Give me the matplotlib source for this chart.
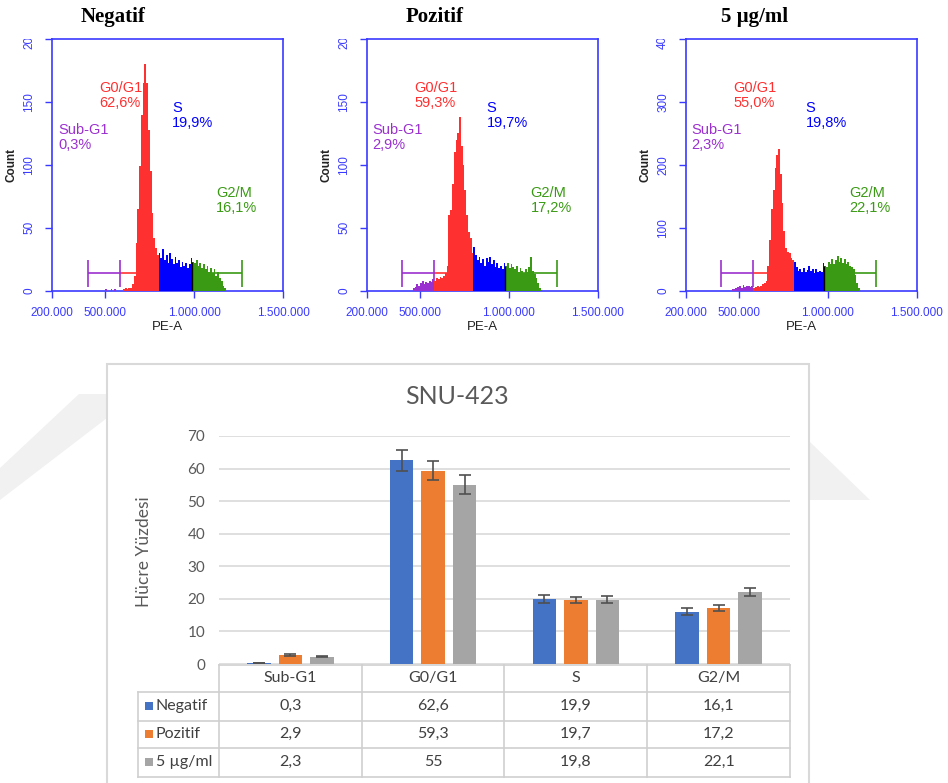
import numpy as np
import matplotlib.pyplot as plt
from matplotlib.patches import Rectangle, Polygon
from matplotlib.transforms import Bbox, TransformedBbox

W, H = 948, 783

# ---- flow cytometry histograms: counts per 10.000 wide PE-A bin ----
bin_width = 10000
sub_end = 580000

neg_start = 500000
neg_counts = [1, 0, 0, 1, 0, 1, 0, 0, 0, 0,
              1, 2, 1, 2, 2, 5, 12, 38, 65, 99,
              140, 165, 180, 165, 128, 95, 62, 42, 34, 28,
              30, 26, 33, 24, 28, 22, 30, 25, 21, 27,
              22, 24, 19, 23, 20, 22, 18, 21, 26,
              23, 22, 24, 20, 22, 18, 21, 17, 20, 15,
              18, 14, 17, 12, 15, 10, 8, 4, 2]

poz_start = 460000
poz_counts = [2, 3, 5, 4, 6, 8, 5, 7, 6, 8, 7, 9,
              8, 10, 9, 11, 10, 12, 14, 20,
              60, 64, 85, 110, 120, 125, 138, 115, 100, 80, 60, 47, 42, 30,
              35, 28, 24, 27, 22, 25, 20, 26, 23, 27, 21, 24, 19, 22, 18, 20, 17, 22,
              20, 22, 18, 21, 19, 17, 20, 15, 18, 16, 14, 17, 15, 19, 27, 16, 13, 10, 6, 2]

dose_start = 460000
dose_counts = [2, 3, 4, 6, 8, 5, 9, 6, 7, 8, 6, 7,
               5, 6, 7, 6, 8, 10, 12, 15, 40, 80, 130, 160, 195, 215, 225,
               185, 140, 95, 68, 62, 60, 52, 48,
               45, 38, 32, 35, 30, 36, 29, 33, 40, 31, 35, 28, 34, 30, 32, 29, 44,
               40, 38, 45, 42, 50, 43, 48, 55, 46, 52, 44, 50, 42, 45, 40, 38, 35, 25, 12, 4]

hist_titles = ["Negatif", "Pozitif", "5 µg/ml"]
hist_starts = [neg_start, poz_start, dose_start]
hist_counts = [neg_counts, poz_counts, dose_counts]
s_starts = [800000, 800000, 810000]
g2_starts = [990000, 980000, 980000]
y_max = [200, 200, 400]
y_ticks = [[0, 50, 100, 150, 200], [0, 50, 100, 150, 200], [0, 100, 200, 300, 400]]
gate_heights = [14, 14, 28]
phase_pct = [["0,3%", "62,6%", "19,9%", "16,1%"],
             ["2,9%", "59,3%", "19,7%", "17,2%"],
             ["2,3%", "55,0%", "19,8%", "22,1%"]]
phase_names = ["Sub-G1", "G0/G1", "S", "G2/M"]

# ---- bar chart ----
categories = ["Sub-G1", "G0/G1", "S", "G2/M"]
series_names = ["Negatif", "Pozitif", "5 µg/ml"]
neg_vals = [0.3, 62.6, 19.9, 16.1]
poz_vals = [2.9, 59.3, 19.7, 17.2]
dose_vals = [2.3, 55.0, 19.8, 22.1]
neg_err = [0.1, 3.2, 1.2, 1.0]
poz_err = [0.3, 2.9, 1.0, 1.0]
dose_err = [0.2, 2.9, 1.0, 1.1]
table_text = [["0,3", "62,6", "19,9", "16,1"],
              ["2,9", "59,3", "19,7", "17,2"],
              ["2,3", "55", "19,8", "22,1"]]

purple = "#9b30d0"
red = "#ff3030"
blue = "#0000ff"
green = "#3a9a14"
axis_blue = "#3a3aff"
bar_colors = ["#4472c4", "#ed7d31", "#a5a5a5"]
gray_txt = "#595959"
table_txt = "#404040"
line_gray = "#d9d9d9"

fig = plt.figure(figsize=(W / 100, H / 100), dpi=100)
fig.patch.set_facecolor("white")

# background layer in pixel coordinates
bg = fig.add_axes([0, 0, 1, 1], zorder=0)
bg.set_xlim(0, W)
bg.set_ylim(H, 0)
bg.axis("off")
bg.add_patch(Polygon([(79, 394), (107, 394), (107, 418), (0, 500), (0, 468)],
                     closed=True, fc="#f1f1f1", ec="none"))
bg.add_patch(Polygon([(810, 442), (870, 500), (810, 500)],
                     closed=True, fc="#f1f1f1", ec="none"))
bg.add_patch(Rectangle((107, 364), 702, 440, fc="white", ec=line_gray, lw=1.5))

hist_lefts = [52, 366.7, 685.7]
for i in range(3):
    ax = fig.add_axes([hist_lefts[i] / W, (H - 290.7) / H, 231 / W, 251.7 / H], zorder=2)
    edges = hist_starts[i] + bin_width * np.arange(len(hist_counts[i]))
    colors = []
    for e in edges:
        if e < sub_end:
            colors.append(purple)
        elif e < s_starts[i]:
            colors.append(red)
        elif e < g2_starts[i]:
            colors.append(blue)
        else:
            colors.append(green)
    ax.bar(edges, hist_counts[i], width=bin_width, align="edge", color=colors,
           linewidth=0, zorder=3)
    # black marker at S / G2/M boundary
    k = list(edges).index(g2_starts[i])
    ax.vlines(g2_starts[i], 0, hist_counts[i][k], color="black", lw=1, zorder=4)

    # gates
    gy = gate_heights[i]
    cap = gy * 0.77
    ax.hlines(gy, 400000, sub_end, color=purple, lw=1.2, zorder=2)
    ax.hlines(gy, sub_end, s_starts[i], color=red, lw=1.2, zorder=2)
    ax.hlines(gy, g2_starts[i], 1270000, color=green, lw=1.2, zorder=2)
    ax.vlines(400000, gy - cap, gy + cap, color=purple, lw=1.2, zorder=2)
    ax.vlines(sub_end, gy - cap, gy + cap, color=purple, lw=1.2, zorder=2)
    ax.vlines(1270000, gy - cap, gy + cap, color=green, lw=1.2, zorder=2)

    ax.set_xlim(200000, 1500000)
    ax.set_ylim(0, y_max[i])
    ax.set_xticks([200000, 500000, 1000000, 1500000])
    ax.set_xticklabels(["200.000", "500.000", "1.000.000", "1.500.000"],
                       fontsize=8.5, color=axis_blue, family="Liberation Sans")
    ax.set_yticks(y_ticks[i])
    ax.set_yticklabels([str(t) for t in y_ticks[i]], fontsize=8.5, color=axis_blue,
                       rotation=90, va="center", family="Liberation Sans")
    ax.tick_params(axis="both", colors=axis_blue, length=5, width=1)
    ax.tick_params(axis="x", pad=7)
    ax.tick_params(axis="y", pad=7)
    for lab in ax.get_yticklabels():
        lab.set_clip_box(TransformedBbox(Bbox.from_extents(-1, -1, 1, 1.0), ax.transAxes))
        lab.set_clip_on(True)
    for sp in ax.spines.values():
        sp.set_color(axis_blue)
        sp.set_linewidth(1.2)
    ax.set_xlabel("PE-A", fontsize=9.5, color="#222222", family="Liberation Sans", labelpad=1)
    ax.set_ylabel("Count", fontsize=8.5, color="#222222", weight="bold",
                  family="Liberation Sans", labelpad=4)

    pos = [(0.026, 0.666, purple), (0.206, 0.832, red), (0.519, 0.752, blue),
           (0.709, 0.414, green)]
    for j, (px, py, c) in enumerate(pos):
        ax.text(px, py, phase_names[j] + "\n" + phase_pct[i][j], transform=ax.transAxes,
                ha="left", va="top", color=c, fontsize=10.5, family="Liberation Sans",
                linespacing=1.05, zorder=5)

    bg.text([113, 435, 755][i], 17, hist_titles[i], ha="center", va="center",
            fontsize=15, weight="bold", family="Liberation Serif", color="black")

# ---- bar chart ----
x0, x1 = 219, 790
y0, y70 = 664, 436
bx = fig.add_axes([x0 / W, (H - y0) / H, (x1 - x0) / W, (y0 - y70) / H], zorder=1)
idx = np.arange(len(categories)) + 0.5
vals = [neg_vals, poz_vals, dose_vals]
errs = [neg_err, poz_err, dose_err]
offsets = [-0.22, 0, 0.22]
for s in range(3):
    bx.bar(idx + offsets[s], vals[s], width=0.165, color=bar_colors[s], zorder=3,
           yerr=errs[s], error_kw=dict(ecolor="#505050", elinewidth=1.2, capsize=4,
                                       capthick=1.2))
bx.set_xlim(0, 4)
bx.set_ylim(0, 70)
bx.set_yticks(range(0, 80, 10))
bx.set_yticklabels([str(t) for t in range(0, 80, 10)], fontsize=11, color=gray_txt,
                   family="Lato")
bx.tick_params(axis="y", length=0, pad=10)
bx.set_xticks([])
bx.grid(axis="y", color=line_gray, lw=1.2, zorder=0)
for sp in bx.spines.values():
    sp.set_visible(False)
bx.set_facecolor("none")

bg.text(457, 396, "SNU-423", ha="center", va="center", fontsize=18, color=gray_txt,
        family="Lato")
bg.text(144, 552, "Hücre Yüzdesi", ha="center", va="center", rotation=90, fontsize=12.5,
        color=gray_txt, family="Lato")

# data table under the plot
cat_w = (x1 - x0) / 4
row_lines = [665, 692, 721, 748, 777]
row_mid = [678, 706, 734, 762]
tcol = dict(color="#cfcfcf", lw=1.2)
bg.plot([x0, x1], [row_lines[0], row_lines[0]], **tcol)
for yl in row_lines[1:]:
    bg.plot([138, x1], [yl, yl], **tcol)
bg.plot([138, 138], [row_lines[1], row_lines[-1]], **tcol)
for c in range(5):
    xc = x0 + c * cat_w
    bg.plot([xc, xc], [row_lines[0], row_lines[-1]], **tcol)
for c in range(4):
    bg.text(x0 + (c + 0.5) * cat_w, row_mid[0], categories[c], ha="center", va="center",
            fontsize=11.5, color=table_txt, family="Lato")
for r in range(3):
    bg.add_patch(Rectangle((145, row_mid[r + 1] - 4), 8, 8, fc=bar_colors[r], ec="none"))
    bg.text(156, row_mid[r + 1], series_names[r], ha="left", va="center", fontsize=11.5,
            color=table_txt, family="Lato")
    for c in range(4):
        bg.text(x0 + (c + 0.5) * cat_w, row_mid[r + 1], table_text[r][c], ha="center",
                va="center", fontsize=11.5, color=table_txt, family="Lato")

fig.savefig("out.png", dpi=100, facecolor="white")
